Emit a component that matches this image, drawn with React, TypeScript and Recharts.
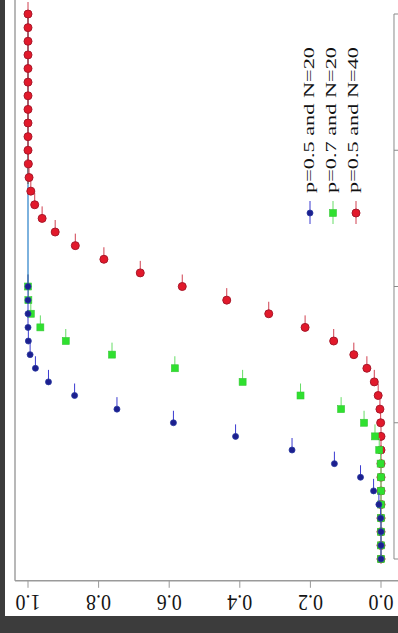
import React from 'react';
import { ScatterChart, Scatter, XAxis, YAxis, ReferenceLine, Legend } from 'recharts';

// k values (number of successes)
const kN20 = [0, 1, 2, 3, 4, 5, 6, 7, 8, 9, 10, 11, 12, 13, 14, 15, 16, 17, 18, 19, 20];
const kN40 = [
  0, 1, 2, 3, 4, 5, 6, 7, 8, 9, 10, 11, 12, 13, 14, 15, 16, 17, 18, 19, 20,
  21, 22, 23, 24, 25, 26, 27, 28, 29, 30, 31, 32, 33, 34, 35, 36, 37, 38, 39, 40,
];
// cumulative probabilities
const cdfP05N20 = [
  0.0, 0.0, 0.0, 0.001, 0.006, 0.021, 0.058, 0.132, 0.252, 0.412, 0.588,
  0.748, 0.868, 0.942, 0.979, 0.994, 0.999, 1.0, 1.0, 1.0, 1.0,
];
const cdfP07N20 = [
  0.0, 0.0, 0.0, 0.0, 0.0, 0.0, 0.0, 0.001, 0.005, 0.017, 0.048,
  0.113, 0.228, 0.392, 0.584, 0.762, 0.893, 0.965, 0.992, 0.999, 1.0,
];
const cdfP05N40 = [
  0.0, 0.0, 0.0, 0.0, 0.0, 0.0, 0.0, 0.0, 0.0, 0.0, 0.001, 0.003, 0.008,
  0.019, 0.04, 0.077, 0.134, 0.215, 0.318, 0.437, 0.563, 0.682, 0.785,
  0.866, 0.923, 0.96, 0.981, 0.992, 0.997, 0.999, 1.0, 1.0, 1.0, 1.0,
  1.0, 1.0, 1.0, 1.0, 1.0, 1.0, 1.0,
];
const valueTicks = [0, 0.2, 0.4, 0.6, 0.8, 1.0];
const valueTickLabels = ['0.0', '0.2', '0.4', '0.6', '0.8', '1.0'];
const kTicks = [0, 10, 20, 30, 40];
const legendLabels = ['p=0.5 and N=20', 'p=0.7 and N=20', 'p=0.5 and N=40'];

const dataBlue = kN20.map((k, i) => ({ k, v: cdfP05N20[i] }));
const dataGreen = kN20.map((k, i) => ({ k, v: cdfP07N20[i] }));
const dataRed = kN40.map((k, i) => ({ k, v: cdfP05N40[i] }));

const V_MAX = 1.03683;
const V_MIN = -0.05949;
const K_AXIS_V = -0.036827;

const SERIF = '"Liberation Serif", "DejaVu Serif", "Times New Roman", serif';

const BLUE = '#1c1f8f';
const BLUE_TICK = '#3a3ad0';
const GREEN = '#2fe02f';
const GREEN_TICK = '#66dd66';
const RED = '#e2192b';
const RED_TICK = '#d04050';

const Marker = ({ kind, cx, cy, both }: { kind: string; cx: number; cy: number; both?: boolean }) => {
  const tickColor = kind === 'blue' ? BLUE_TICK : kind === 'green' ? GREEN_TICK : RED_TICK;
  const y1 = both ? cy + 11 : cy;
  const line = <line x1={cx} x2={cx} y1={y1} y2={cy - 12} stroke={tickColor} strokeWidth={1} />;
  if (kind === 'blue') {
    return (
      <g>
        {line}
        <circle cx={cx} cy={cy} r={3} fill={BLUE} stroke="#2a3aa0" strokeWidth={0.8} />
      </g>
    );
  }
  if (kind === 'green') {
    return (
      <g>
        {line}
        <rect x={cx - 3.5} y={cy - 3.5} width={7} height={7} fill={GREEN} stroke="#38c838" strokeWidth={0.6} />
      </g>
    );
  }
  return (
    <g>
      {line}
      <circle cx={cx} cy={cy} r={4} fill={RED} stroke="#a8182a" strokeWidth={1} />
    </g>
  );
};

const shapeFor = (kind: string) => (props: any) => <Marker kind={kind} cx={props.cx} cy={props.cy} />;

const ValueTick = (props: any) => {
  const { x, y, payload } = props;
  const idx = valueTicks.indexOf(payload.value);
  const label = idx >= 0 ? valueTickLabels[idx] : String(payload.value);
  return (
    <g transform={`translate(${x},${y + 13})`}>
      <text
        transform="rotate(180) scale(1,1.15)"
        textAnchor="middle"
        dominantBaseline="central"
        fontSize={20}
        fontFamily={SERIF}
        fill="#151515"
      >
        {label}
      </text>
    </g>
  );
};

const LegendContent = () => {
  const ox = 295;
  const oy = 35;
  const kinds = ['blue', 'green', 'red'];
  const baselines = [314, 336, 358];
  const markerX = [310, 333, 356];
  return (
    <svg width={80} height={200} style={{ overflow: 'visible', display: 'block' }}>
      {legendLabels.map((lab, i) => (
        <g key={lab}>
          <text
            transform={`translate(${baselines[i] - ox},${193 - oy}) rotate(-90)`}
            fontSize={15}
            fontFamily={SERIF}
            textLength={146}
            lengthAdjust="spacingAndGlyphs"
            fill="#111"
          >
            {lab}
          </text>
          <Marker kind={kinds[i]} cx={markerX[i] - ox} cy={213 - oy} both />
        </g>
      ))}
    </svg>
  );
};

export default function App() {
  return (
    <div
      style={{
        position: 'fixed',
        left: 0,
        top: 0,
        width: 398,
        height: 633,
        overflow: 'hidden',
        background: '#3c3c3c',
      }}
    >
      <div style={{ position: 'absolute', left: 5, top: 0, width: 393, height: 616, background: '#ffffff' }} />
      <div style={{ position: 'absolute', left: 0, top: -12 }}>
        <ScatterChart width={402} height={660} margin={{ top: 4.2, right: 0, bottom: 27.2, left: 15 }}>
          <XAxis
            type="number"
            dataKey="v"
            domain={[V_MIN, V_MAX]}
            allowDataOverflow
            reversed
            ticks={valueTicks}
            interval={0}
            height={40}
            tickSize={7}
            tickLine={{ stroke: '#999' }}
            axisLine={{ stroke: '#9a9a9a', strokeWidth: 1.5 }}
            tick={<ValueTick />}
          />
          <YAxis type="number" dataKey="k" domain={[-1.6, 41.6]} allowDataOverflow hide />
          <ReferenceLine x={V_MAX} stroke="#a0a0a0" strokeWidth={1.5} ifOverflow="visible" />
          <ReferenceLine
            segment={[{ x: K_AXIS_V, y: 0 }, { x: K_AXIS_V, y: 40 }]}
            stroke="#8a8a8a"
            ifOverflow="visible"
          />
          {kTicks.map((k) => (
            <ReferenceLine
              key={k}
              segment={[{ x: K_AXIS_V, y: k }, { x: V_MIN, y: k }]}
              stroke="#8a8a8a"
              ifOverflow="visible"
            />
          ))}
          <ReferenceLine
            segment={[{ x: 1, y: 20 }, { x: 1, y: 27.5 }]}
            stroke="#5d9fd6"
            strokeWidth={1.6}
            ifOverflow="visible"
          />
          <ReferenceLine
            segment={[{ x: 1, y: 27.5 }, { x: 1, y: 40 }]}
            stroke="#5a5a66"
            strokeWidth={1.6}
            ifOverflow="visible"
          />
          <Scatter name={legendLabels[2]} data={dataRed} shape={shapeFor('red')} isAnimationActive={false} />
          <Scatter name={legendLabels[1]} data={dataGreen} shape={shapeFor('green')} isAnimationActive={false} />
          <Scatter name={legendLabels[0]} data={dataBlue} shape={shapeFor('blue')} isAnimationActive={false} />
          <Legend
            layout="horizontal"
            verticalAlign="middle"
            align="center"
            content={<LegendContent />}
            wrapperStyle={{ position: 'absolute', left: 295, top: 47, width: 80, height: 200 }}
          />
        </ScatterChart>
      </div>
    </div>
  );
}
